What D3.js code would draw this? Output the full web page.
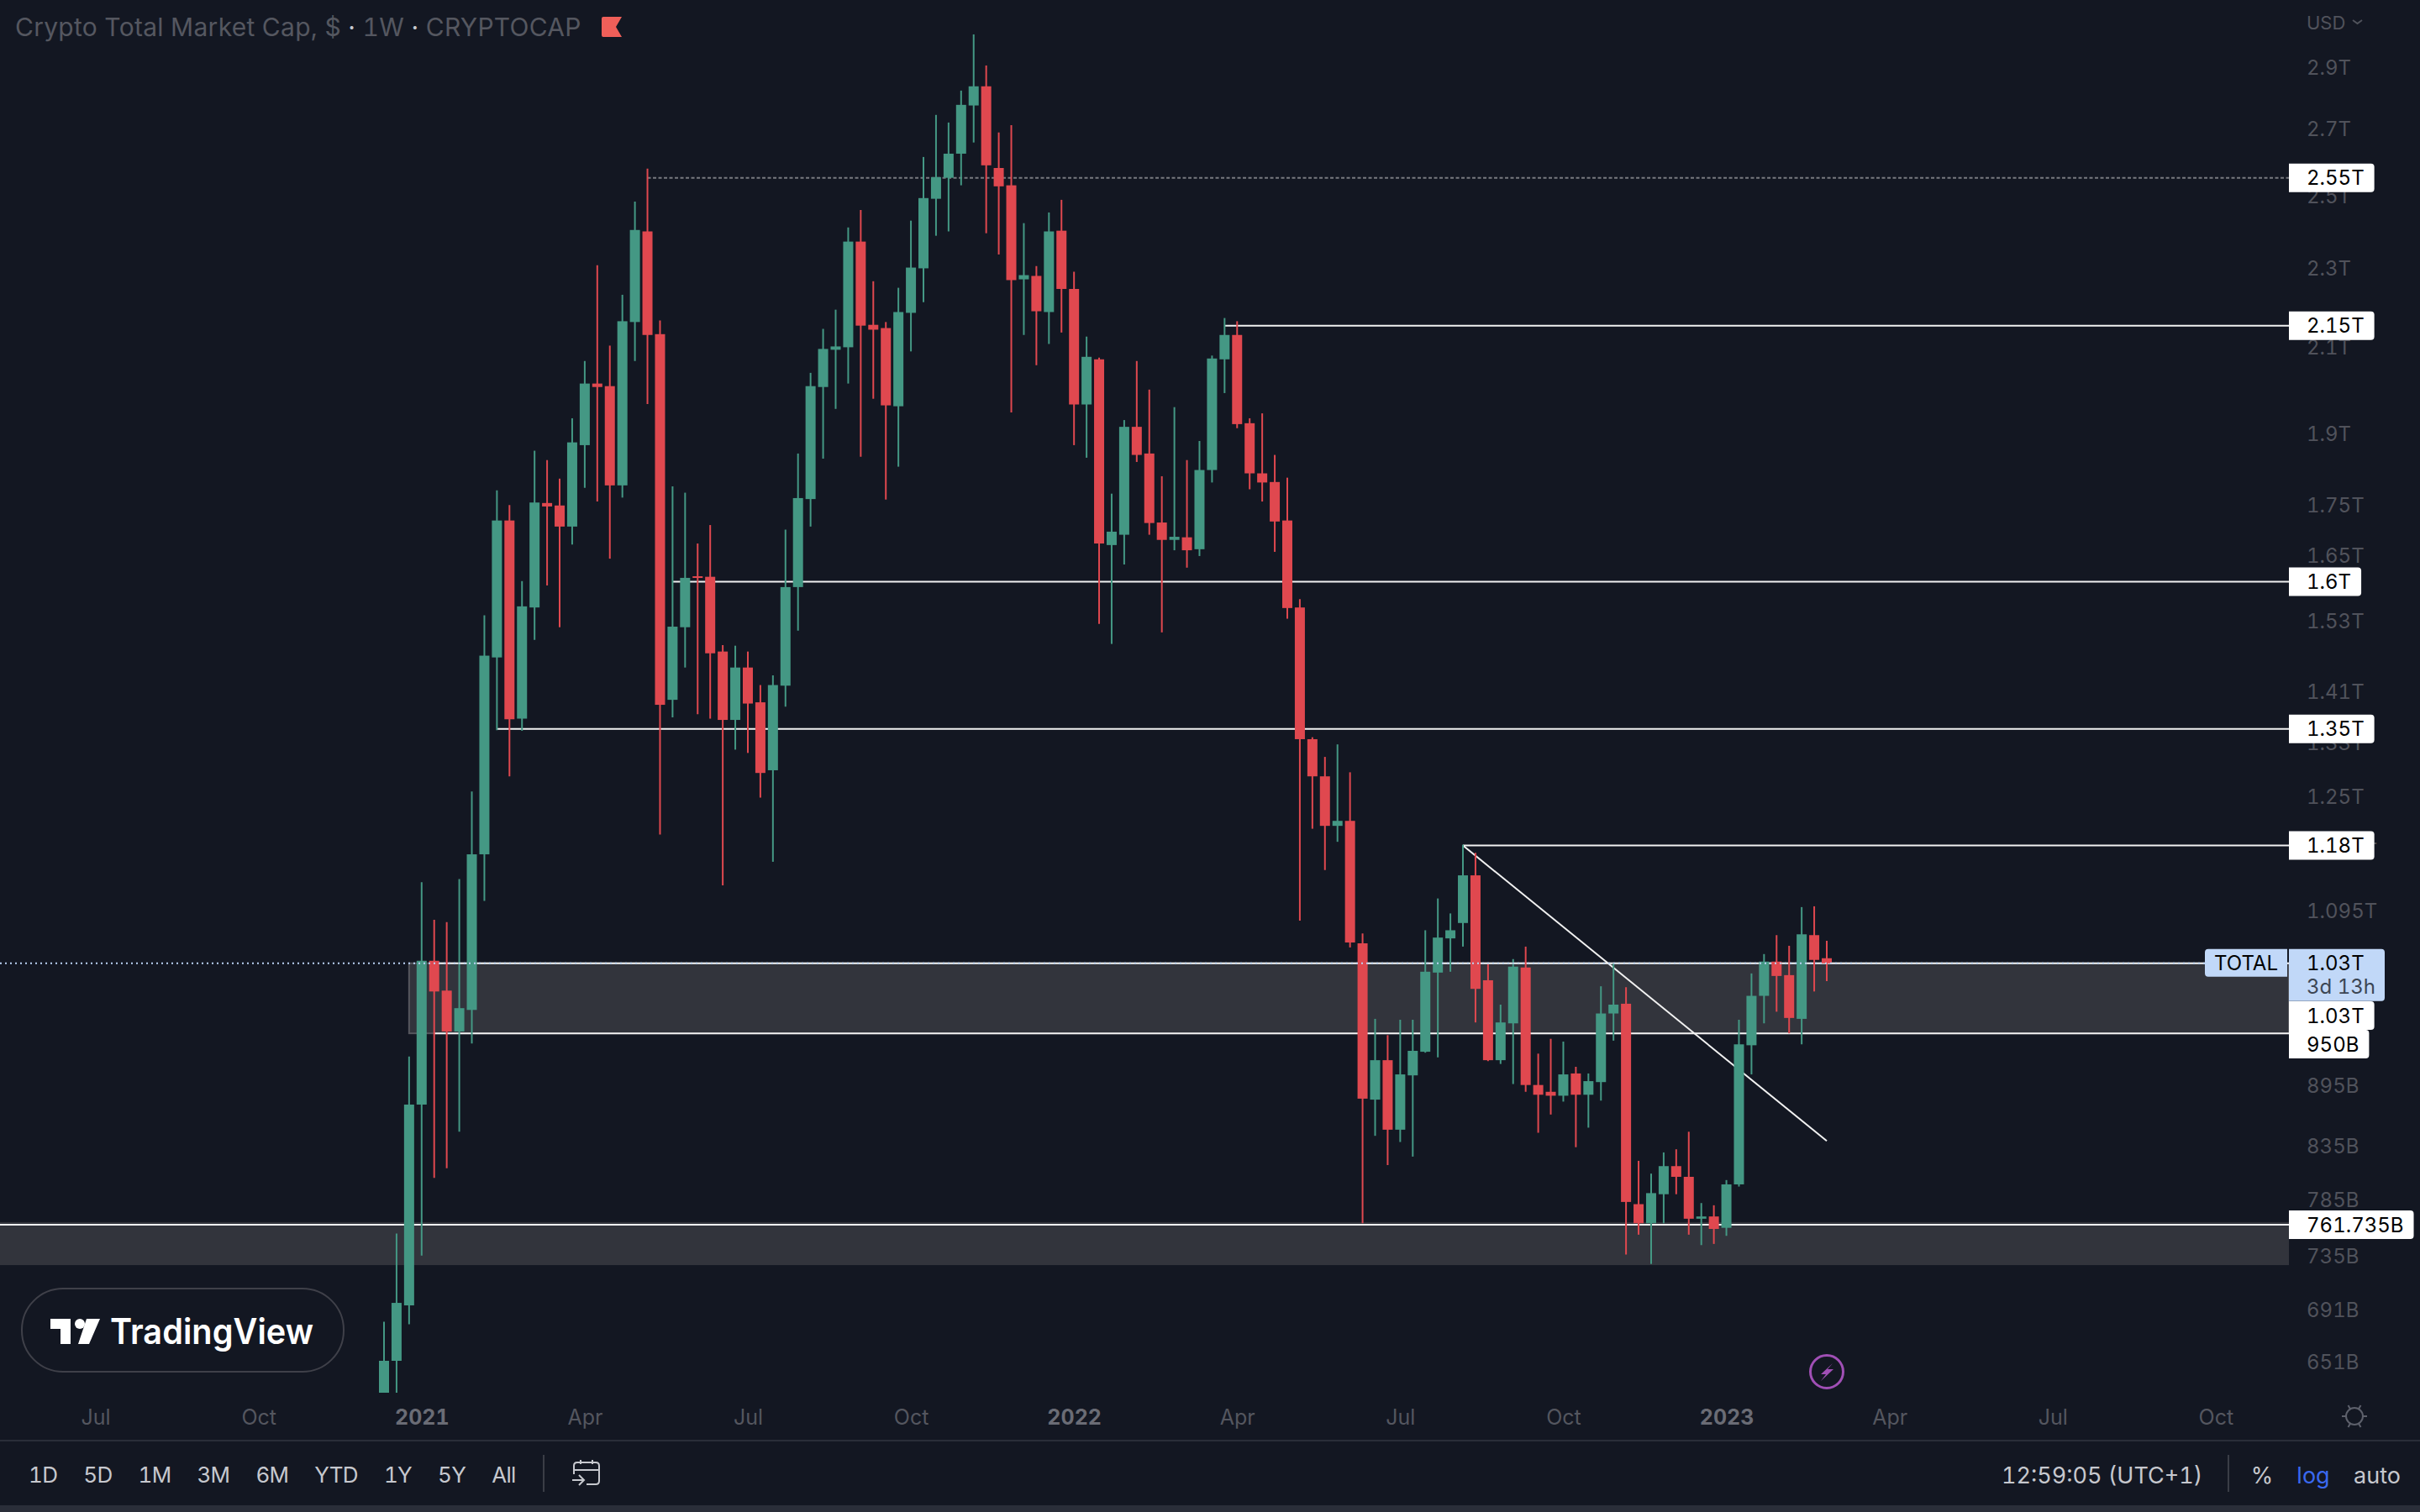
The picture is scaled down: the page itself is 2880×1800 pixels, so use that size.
<!DOCTYPE html>
<html>
<head>
<meta charset="utf-8">
<title>Crypto Total Market Cap</title>
<script src="https://cdn.jsdelivr.net/npm/d3@7/dist/d3.min.js"></script>
<style>
	html, body { margin: 0; padding: 0; background: #131722; }
	svg { display: block; }
	text { font-family: Inter, "Noto Sans", sans-serif; font-variant-numeric: tabular-nums; }
</style>
</head>
<body>
<div id="chart"></div>
<script>
// weekly candles, values in billions of USD
var weekDates = d3.utcMonday.range(new Date(Date.UTC(2020, 11, 14)), new Date(Date.UTC(2023, 1, 28)));

var opens = [
	623,651,694,875,1033,998,952,976,1168,1466,
	1717,1366,1553,1752,1747,1705,1873,2011,2005,1788,
	2159,2397,2129,1396,1518,1610,1609,1476,1364,1449,
	1392,1287,1419,1590,1760,2003,2091,2097,2369,2152,
	2144,1959,2182,2297,2489,2550,2622,2772,2834,2579,
	2528,2268,2277,2184,2399,2243,1963,2068,1669,1689,
	1913,1855,1713,1679,1684,1661,1820,2068,2127,1921,
	1813,1795,1717,1553,1334,1278,1207,1214,1054,880,
	921,850,905,930,1019,1060,1079,1140,1010,921,
	961,1025,895,888,884,907,885,898,972,983,
	780,763,789,815,805,767,769,759,798,937,
	992,1032,1016,966,1064,1036
];
var closes = [
	651,696,875,1033,997,952,978,1168,1469,1717,
	1365,1555,1753,1745,1705,1879,2011,2003,1788,2161,
	2401,2127,1388,1519,1607,1607,1473,1364,1449,1390,
	1283,1420,1590,1762,2005,2093,2099,2369,2150,2140,
	1961,2184,2299,2491,2552,2622,2774,2834,2587,2525,
	2266,2279,2186,2397,2243,1963,2074,1672,1695,1913,
	1852,1712,1679,1685,1659,1820,2070,2127,1919,1813,
	1794,1715,1552,1334,1278,1207,1214,1055,881,921,
	850,906,931,1020,1061,1070,1140,1000,921,962,
	1026,895,885,884,906,885,899,972,982,782,
	763,790,815,805,767,769,758,798,938,992,
	1032,1015,967,1065,1034,1030
];
var highs = [
	681,754,925,1131,1083,1080,1135,1256,1539,1778,
	1748,1601,1861,1841,1802,1932,2064,2305,2101,2228,
	2481,2577,2163,1786,1773,1672,1708,1487,1486,1476,
	1420,1436,1699,1855,2036,2142,2190,2408,2457,2263,
	2159,2246,2427,2612,2742,2718,2820,3009,2903,2687,
	2710,2420,2303,2450,2486,2288,2123,2072,1771,1928,
	2064,1997,1807,1957,1841,1882,2077,2169,2161,1932,
	1943,1852,1804,1568,1337,1307,1326,1284,1066,966,
	948,965,965,1070,1110,1091,1181,1170,1029,982,
	1035,1050,928,944,941,914,907,1003,1030,1002,
	820,808,828,831,848,781,779,802,965,1018,
	1041,1064,1051,1099,1100,1057
];
var lows = [
	614,621,679,735,804,813,848,939,1107,1348,
	1278,1347,1496,1593,1518,1670,1783,1755,1643,1763,
	2064,1964,1195,1368,1449,1373,1366,1127,1318,1313,
	1247,1158,1385,1512,1705,1844,1953,2011,1848,1976,
	1759,1827,2087,2209,2385,2397,2528,2656,2392,2334,
	1945,2127,2054,2105,2133,1873,1846,1524,1489,1632,
	1837,1689,1509,1659,1626,1648,1794,1989,1910,1780,
	1755,1656,1533,1082,1203,1147,1185,1049,763,844,
	816,838,824,929,924,1020,1050,962,920,917,
	896,888,847,865,878,833,852,879,942,736,
	753,728,763,789,753,744,745,752,796,906,
	961,974,950,938,997,1009
];

// axis ticks
var priceTicks = [2900,2700,2500,2300,2100,1900,1750,1650,1530,1410,1330,1250,1175,1095,895,835,785,735,691,651];
var timeTicks = ["2020-07-06","2020-10-05","2021-01-04","2021-04-05","2021-07-05","2021-10-04","2022-01-03","2022-04-04","2022-07-04","2022-10-03","2023-01-02","2023-04-03","2023-07-03","2023-10-02"];

// drawn levels, the index says on which week each one starts (-1 is the left edge)
var levelValues = [2550,2150,1600,1350,1180,1030,950,761.735];
var levelLabels = ["2.55T","2.15T","1.6T","1.35T","1.18T","1.03T","950B","761.735B"];
var levelStarts = [21,67,23,9,86,4,4,-1];

var zoneTops = [1030,764];
var zoneBottoms = [950,727];
var zoneStarts = [2,-1];

var trendStarts = [86,1180];
var trendEnds = [115,839];

var lastPrice = 1030;

var rangeButtons = ["1D","5D","1M","3M","6M","YTD","1Y","5Y","All"];

var width = 2880, height = 1800;
var paneRight = 2724, paneBottom = 1658;

var green = "#449884", red = "#e0484f", bg = "#131722";
var axisGrey = "#50525b", btnGrey = "#c6c8ce", lineWhite = "#f2f2f2";

var svg = d3.select("#chart").append("svg")
	.attr("width", width)
	.attr("height", height)
	.attr("viewBox", "0 0 " + width + " " + height);

svg.append("rect").attr("width", width).attr("height", height).attr("fill", bg);

var x = d3.scaleUtc().domain([weekDates[0], weekDates[weekDates.length - 1]]).range([457, 2174]);
var y = d3.scaleLog().domain([2900, 651]).range([79, 1620]);

function startX(i) {
	return i < 0 ? 0 : x(weekDates[i]);
}

svg.append("clipPath").attr("id", "pane")
	.append("rect").attr("width", paneRight).attr("height", paneBottom);

// price axis first, the level labels cover some of it
var yAxis = d3.axisRight(y)
	.tickValues(priceTicks)
	.tickSize(0)
	.tickPadding(0)
	.tickFormat(function(d) { return d >= 1000 ? (d / 1000) + "T" : d + "B"; });

var yG = svg.append("g").attr("transform", "translate(2745,0)").call(yAxis);
yG.select(".domain").remove();
yG.selectAll("text").attr("fill", axisGrey).attr("font-size", 24).attr("dy", ".38em");

// time axis
var xAxis = d3.axisBottom(x)
	.tickValues(timeTicks.map(function(d) { return new Date(d + "T00:00:00Z"); }))
	.tickSize(0)
	.tickPadding(0)
	.tickFormat(function(d) {
		return d.getUTCMonth() === 0 ? d3.utcFormat("%Y")(d) : d3.utcFormat("%b")(d);
	});

var xG = svg.append("g").attr("transform", "translate(0,1678)").call(xAxis);
xG.select(".domain").remove();
xG.selectAll("text")
	.attr("fill", function(d) { return d.getUTCMonth() === 0 ? "#6a6c75" : "#54565f"; })
	.attr("font-weight", function(d) { return d.getUTCMonth() === 0 ? 700 : 400; })
	.attr("font-size", 25);

var plot = svg.append("g").attr("clip-path", "url(#pane)");

// shaded zones
plot.selectAll("rect.zone")
	.data(zoneTops)
	.enter().append("rect")
	.attr("class", "zone")
	.attr("x", function(d, i) { return startX(zoneStarts[i]); })
	.attr("y", function(d) { return y(d); })
	.attr("width", function(d, i) { return paneRight - startX(zoneStarts[i]); })
	.attr("height", function(d, i) { return y(zoneBottoms[i]) - y(d); })
	.attr("fill", "#32343c")
	.attr("stroke", function(d, i) { return zoneStarts[i] < 0 ? "none" : "#55565d"; })
	.attr("stroke-width", 2);

// horizontal levels
plot.selectAll("line.level")
	.data(levelValues)
	.enter().append("line")
	.attr("class", "level")
	.attr("x1", function(d, i) { return startX(levelStarts[i]); })
	.attr("x2", paneRight)
	.attr("y1", function(d) { return y(d); })
	.attr("y2", function(d) { return y(d); })
	.attr("stroke", function(d, i) { return i === 0 ? "#77797f" : lineWhite; })
	.attr("stroke-dasharray", function(d, i) { return i === 0 ? "4 2.5" : null; })
	.attr("stroke-width", 2);

// trend line
plot.append("line")
	.attr("x1", x(weekDates[trendStarts[0]]))
	.attr("y1", y(trendStarts[1]))
	.attr("x2", x(weekDates[trendEnds[0]]))
	.attr("y2", y(trendEnds[1]))
	.attr("stroke", lineWhite)
	.attr("stroke-width", 2);

// candles
var candle = plot.selectAll("g.candle")
	.data(weekDates)
	.enter().append("g")
	.attr("class", "candle");

candle.append("line")
	.attr("x1", function(d) { return x(d); })
	.attr("x2", function(d) { return x(d); })
	.attr("y1", function(d, i) { return y(highs[i]); })
	.attr("y2", function(d, i) { return y(lows[i]); })
	.attr("stroke", function(d, i) { return closes[i] >= opens[i] ? green : red; })
	.attr("stroke-width", 2);

candle.append("rect")
	.attr("x", function(d) { return x(d) - 6; })
	.attr("width", 12)
	.attr("y", function(d, i) { return y(Math.max(opens[i], closes[i])); })
	.attr("height", function(d, i) { return Math.max(2, Math.abs(y(opens[i]) - y(closes[i]))); })
	.attr("fill", function(d, i) { return closes[i] >= opens[i] ? green : red; });

// last price dots run over the candles
plot.append("line")
	.attr("x1", 0)
	.attr("x2", paneRight)
	.attr("y1", y(lastPrice))
	.attr("y2", y(lastPrice))
	.attr("stroke", "#bcd3f5")
	.attr("stroke-dasharray", "2 4")
	.attr("stroke-width", 2);

// right side boxes, square on the left and round on the right
function tagPath(x0, y0, w, h, r) {
	var p = d3.path();
	p.moveTo(x0, y0);
	p.lineTo(x0 + w - r, y0);
	p.arcTo(x0 + w, y0, x0 + w, y0 + r, r);
	p.lineTo(x0 + w, y0 + h - r);
	p.arcTo(x0 + w, y0 + h, x0 + w - r, y0 + h, r);
	p.lineTo(x0, y0 + h);
	p.closePath();
	return p.toString();
}

var tag = svg.selectAll("g.tag")
	.data(levelValues)
	.enter().append("g")
	.attr("class", "tag");

// the 1.03T and 950B labels get pushed under the countdown box
function tagCentre(d) {
	if (d === 1030) return 1209;
	if (d === 950) return 1243;
	return y(d);
}

tag.append("text")
	.attr("x", 2745)
	.attr("y", tagCentre)
	.attr("dy", ".36em")
	.attr("font-size", 24)
	.attr("fill", "#000")
	.text(function(d, i) { return levelLabels[i]; });

tag.insert("path", "text")
	.attr("fill", "#fff")
	.attr("d", function(d) {
		var w = d3.select(this.parentNode).select("text").node().getComputedTextLength();
		return tagPath(paneRight, tagCentre(d) - 17, w + 21 + 12, 34, 4);
	});

// blue tags for the symbol and its last price
var blue = "#c1d8f8";
var lastY = y(lastPrice);
svg.append("path").attr("fill", blue).attr("d", tagPath(paneRight, lastY - 17, 114, 62, 4));
svg.append("text").attr("x", 2745).attr("y", lastY).attr("dy", ".36em").attr("font-size", 24).attr("fill", "#000").text("1.03T");
svg.append("text").attr("x", 2745).attr("y", lastY + 28).attr("dy", ".36em").attr("font-size", 24).attr("fill", "#3c4654").text("3d 13h");
svg.append("path").attr("fill", blue).attr("transform", "translate(2722,0) scale(-1,1)").attr("d", tagPath(0, lastY - 17, 98, 33, 4));
svg.append("text").attr("x", 2673).attr("y", lastY).attr("dy", ".36em").attr("text-anchor", "middle").attr("font-size", 24).attr("fill", "#000").text("TOTAL");

// title
var title = svg.append("text").attr("x", 18).attr("y", 43).attr("font-size", 30).attr("letter-spacing", 0.27).attr("fill", "#555760");
title.append("tspan").text("Crypto Total Market Cap, $ ");
title.append("tspan").attr("fill", "#c8cad0").text("·");
title.append("tspan").text(" 1W ");
title.append("tspan").attr("fill", "#c8cad0").text("·");
title.append("tspan").text(" CRYPTOCAP");

svg.append("path")
	.attr("d", "M716 22Q716 20 718 20H740L733 32L740 44H718Q716 44 716 42Z")
	.attr("fill", "#ef5f59");

// currency
svg.append("text").attr("x", 2745).attr("y", 27).attr("dy", ".36em").attr("font-size", 22).attr("fill", axisGrey).text("USD");
svg.append("path").attr("d", "M2800 24L2805.5 28L2811 24").attr("fill", "none").attr("stroke", axisGrey).attr("stroke-width", 2);

// logo badge
svg.append("rect")
	.attr("x", 26).attr("y", 1534).attr("width", 383).attr("height", 99).attr("rx", 49)
	.attr("fill", bg).attr("stroke", "#3f4049").attr("stroke-width", 2);
svg.append("path")
	.attr("d", "M60 1570H84V1600H72V1582H60ZM103 1570H119L106 1600H93Z")
	.attr("fill", "#fff");
svg.append("circle").attr("cx", 95).attr("cy", 1576).attr("r", 6).attr("fill", "#fff");
svg.append("text")
	.attr("x", 131).attr("y", 1600)
	.attr("font-size", 42).attr("font-weight", 600)
	.attr("textLength", 242).attr("lengthAdjust", "spacingAndGlyphs")
	.attr("fill", "#fff").text("TradingView");

// purple bolt
svg.append("circle").attr("cx", 2174).attr("cy", 1633).attr("r", 19.5)
	.attr("fill", "none").attr("stroke", "#a04fb5").attr("stroke-width", 3);
svg.append("path").attr("d", "M2181 1623L2167 1636H2173L2167 1644L2182 1630H2175Z").attr("fill", "#a04fb5");

// settings icon
var gear = svg.append("g").attr("transform", "translate(2802,1686)").attr("stroke", "#5d606b").attr("stroke-width", 2).attr("fill", "none");
gear.append("circle").attr("r", 10);
gear.selectAll("line").data(d3.range(0, 360, 60)).enter().append("line")
	.attr("y1", -10).attr("y2", -15)
	.attr("transform", function(d) { return "rotate(" + (d + 30) + ")"; });

// bottom bar
svg.append("rect").attr("x", 0).attr("y", 1714).attr("width", width).attr("height", 2).attr("fill", "#2a2e39");
svg.append("rect").attr("x", 0).attr("y", 1792).attr("width", width).attr("height", 8).attr("fill", "#2a2e39");

// range buttons sit one after the other with the same gap
var btnLeft = 34;
svg.selectAll("text.btn")
	.data(rangeButtons)
	.enter().append("text")
	.attr("class", "btn")
	.attr("y", 1765)
	.attr("font-size", 26)
	.attr("letter-spacing", -0.7)
	.attr("fill", btnGrey)
	.text(function(d) { return d; })
	.attr("x", function() {
		var left = btnLeft;
		btnLeft += this.getComputedTextLength() + 31;
		return left;
	});

svg.append("rect").attr("x", 646).attr("y", 1732).attr("width", 2).attr("height", 44).attr("fill", "#3a3d46");
svg.append("rect").attr("x", 2651).attr("y", 1732).attr("width", 2).attr("height", 44).attr("fill", "#3a3d46");

// go to date icon
svg.append("path")
	.attr("d", "M691 1738V1743M705 1738V1743M683 1755V1745Q683 1741 687 1741H709Q713 1741 713 1745V1763Q713 1767 709 1767H698M683 1750H713M681 1762H694M689 1756L695 1762L689 1768")
	.attr("fill", "none").attr("stroke", btnGrey).attr("stroke-width", 2);

svg.append("text").attr("x", 2382).attr("y", 1766).attr("font-size", 27).attr("fill", btnGrey).text("12:59:05 (UTC+1)");
svg.append("text").attr("x", 2692).attr("y", 1766).attr("text-anchor", "middle").attr("font-size", 27).attr("fill", btnGrey).text("%");
svg.append("text").attr("x", 2753).attr("y", 1766).attr("text-anchor", "middle").attr("font-size", 27).attr("fill", "#3a69ef").text("log");
svg.append("text").attr("x", 2829).attr("y", 1766).attr("text-anchor", "middle").attr("font-size", 27).attr("fill", btnGrey).text("auto");
</script>
</body>
</html>
